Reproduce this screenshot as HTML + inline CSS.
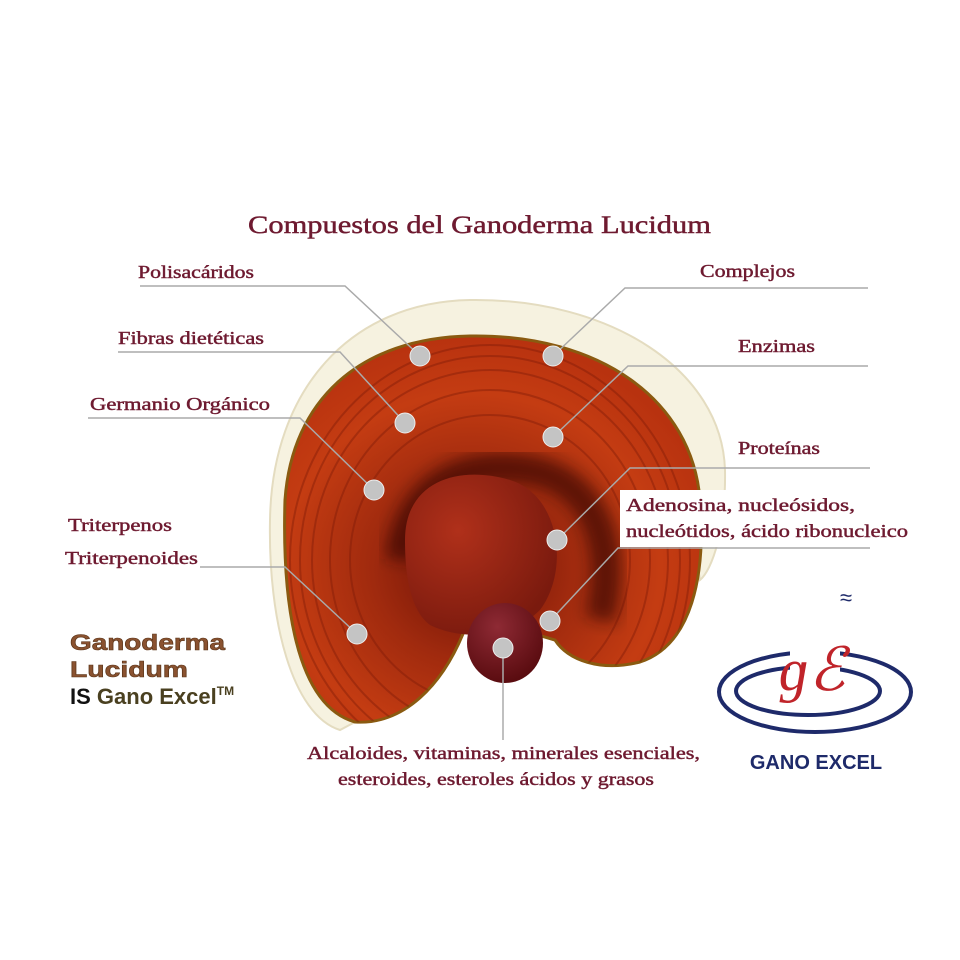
<!DOCTYPE html>
<html><head><meta charset="utf-8"><style>
html,body{margin:0;padding:0;background:#fff}
svg{display:block}
.t{font-family:"Liberation Serif",serif;fill:#6e1a30;stroke:#6e1a30;stroke-width:0.45;font-size:17.5px}
</style></head><body>
<svg width="960" height="960" viewBox="0 0 960 960">
<defs>
<radialGradient id="cap" cx="0.45" cy="0.6" r="0.6">
<stop offset="0" stop-color="#6a1006"/><stop offset="0.4" stop-color="#a02a0e"/><stop offset="0.75" stop-color="#c43c12"/><stop offset="1" stop-color="#b8320f"/>
</radialGradient>
<radialGradient id="stem" cx="0.4" cy="0.3" r="0.7">
<stop offset="0" stop-color="#8e2a34"/><stop offset="1" stop-color="#5a0c10"/>
</radialGradient>
<radialGradient id="lobe" cx="0.35" cy="0.35" r="0.7">
<stop offset="0" stop-color="#b0301a"/><stop offset="1" stop-color="#7a1a0e"/>
</radialGradient>
<filter id="bl"><feGaussianBlur stdDeviation="8"/></filter>
<clipPath id="cc"><path d="M470,615 C445,690 400,725 355,722 C295,705 282,600 285,500 C292,400 360,338 470,336 C600,334 692,400 700,500 C706,575 692,645 640,662 C600,672 568,660 555,640 Z"/></clipPath>
</defs>
<path d="M470,300 C610,298 722,370 725,470 C726,530 712,570 700,580 L690,520 C680,420 600,338 470,336 C360,338 292,400 285,500 C282,600 295,705 355,722 L340,730 C292,715 268,620 270,520 C272,390 350,302 470,300 Z" fill="#f6f2e0" stroke="#e4dcc0" stroke-width="2"/>
<path d="M470,615 C445,690 400,725 355,722 C295,705 282,600 285,500 C292,400 360,338 470,336 C600,334 692,400 700,500 C706,575 692,645 640,662 C600,672 568,660 555,640 Z" fill="url(#cap)" stroke="#8a5a10" stroke-width="3"/>
<g clip-path="url(#cc)" fill="none" stroke="#7a1a08" stroke-opacity="0.4" stroke-width="2">
<ellipse cx="490" cy="560" rx="200" ry="215"/>
<ellipse cx="490" cy="560" rx="190" ry="204"/>
<ellipse cx="490" cy="560" rx="178" ry="190"/>
<ellipse cx="490" cy="560" rx="160" ry="170"/>
<ellipse cx="490" cy="560" rx="140" ry="145"/>
<path d="M400,560 C410,480 470,460 530,470 C590,480 620,540 600,620" stroke="#2a0202" stroke-width="30" stroke-opacity="0.6" filter="url(#bl)"/>
</g>
<path d="M405,540 C405,480 460,465 510,480 C560,495 570,570 540,610 C510,640 460,640 430,625 C410,610 405,575 405,540Z" fill="url(#lobe)"/>
<ellipse cx="505" cy="643" rx="38" ry="40" fill="url(#stem)"/>
<g fill="none" stroke="#aaa" stroke-width="1.5">
<polyline points="140,286 345,286 420,356"/>
<polyline points="118,352 340,352 405,423"/>
<polyline points="88,418 300,418 374,490"/>
<polyline points="200,567 285,567 357,634"/>
<polyline points="868,288 625,288 553,356"/>
<polyline points="868,366 628,366 553,437"/>
<polyline points="870,468 630,468 557,540"/>
<polyline points="870,548 618,548 550,621"/>
<polyline points="503,648 503,740"/>
</g>
<g fill="#c4c4c4" stroke="#eee" stroke-width="1">
<circle cx="420" cy="356" r="10"/><circle cx="405" cy="423" r="10"/><circle cx="374" cy="490" r="10"/><circle cx="357" cy="634" r="10"/>
<circle cx="553" cy="356" r="10"/><circle cx="553" cy="437" r="10"/><circle cx="557" cy="540" r="10"/><circle cx="550" cy="621" r="10"/><circle cx="503" cy="648" r="10"/>
</g>
<rect x="620" y="490" width="292" height="57" fill="#fff"/>
<text x="248" y="233" class="t" style="font-size:25px" textLength="463" lengthAdjust="spacingAndGlyphs">Compuestos del Ganoderma Lucidum</text>
<text x="138" y="278" class="t" textLength="116" lengthAdjust="spacingAndGlyphs">Polisacáridos</text>
<text x="118" y="344" class="t" textLength="146" lengthAdjust="spacingAndGlyphs">Fibras dietéticas</text>
<text x="90" y="410" class="t" textLength="180" lengthAdjust="spacingAndGlyphs">Germanio Orgánico</text>
<text x="68" y="531" class="t" textLength="104" lengthAdjust="spacingAndGlyphs">Triterpenos</text>
<text x="65" y="564" class="t" textLength="133" lengthAdjust="spacingAndGlyphs">Triterpenoides</text>
<text x="700" y="277" class="t" textLength="95" lengthAdjust="spacingAndGlyphs">Complejos</text>
<text x="738" y="352" class="t" textLength="77" lengthAdjust="spacingAndGlyphs">Enzimas</text>
<text x="738" y="454" class="t" textLength="82" lengthAdjust="spacingAndGlyphs">Proteínas</text>
<text x="626" y="511" class="t" textLength="229" lengthAdjust="spacingAndGlyphs">Adenosina, nucleósidos,</text>
<text x="626" y="537" class="t" textLength="282" lengthAdjust="spacingAndGlyphs">nucleótidos, ácido ribonucleico</text>
<text x="307" y="759" class="t" textLength="393" lengthAdjust="spacingAndGlyphs">Alcaloides, vitaminas, minerales esenciales,</text>
<text x="338" y="785" class="t" textLength="316" lengthAdjust="spacingAndGlyphs">esteroides, esteroles ácidos y grasos</text>
<g font-family="'Liberation Sans',sans-serif" font-weight="bold" font-size="22">
<text x="70" y="650" fill="#8a5230" stroke="#5a3418" stroke-width="0.6" textLength="155" lengthAdjust="spacingAndGlyphs">Ganoderma</text>
<text x="70" y="677" fill="#8a5230" stroke="#5a3418" stroke-width="0.6" textLength="118" lengthAdjust="spacingAndGlyphs">Lucidum</text>
<text x="70" y="704" fill="#4a4020"><tspan fill="#111">IS</tspan> Gano Excel<tspan font-size="12" dy="-9">TM</tspan></text>
</g>
<ellipse cx="815" cy="692" rx="96" ry="40" fill="none" stroke="#1e2a6a" stroke-width="4"/>
<ellipse cx="808" cy="691" rx="72" ry="24" fill="none" stroke="#1e2a6a" stroke-width="4"/>
<rect x="790" y="640" width="50" height="60" fill="#fff"/>
<text x="812" y="690" text-anchor="middle" font-family="'Liberation Serif',serif" font-style="italic" font-size="60" fill="#c0242a">ɡℰ</text>
<text x="840" y="605" font-family="'Liberation Sans',sans-serif" font-size="22" fill="#1e2a6a">≈</text>
<text x="816" y="769" text-anchor="middle" font-family="'Liberation Sans',sans-serif" font-weight="bold" font-size="20" fill="#1e2a6a">GANO EXCEL</text>
</svg>
</body></html>
